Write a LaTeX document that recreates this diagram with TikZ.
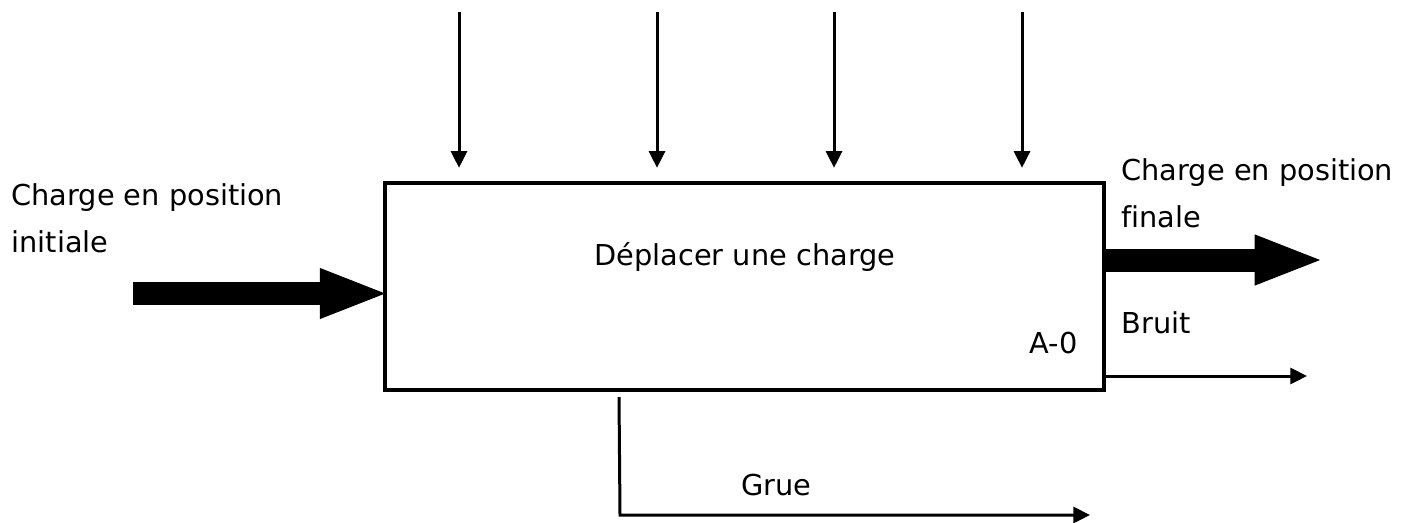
\documentclass[tikz,border=0pt]{standalone}
\usepackage{fontspec}
\setmainfont[Ligatures=NoCommon]{DejaVu Sans}
\usetikzlibrary{arrows.meta}

\tikzset{every picture/.style={line width=2.25pt}}
\tikzset{
  lbl/.style={inner sep=0pt, font=\fontsize{21.6}{35}\selectfont, align=left},
  fctbox/.style={draw, line width=2.8pt, minimum width=539.25pt, minimum height=155.25pt, inner sep=0pt},
  thin arrow/.style={-{Triangle[length=12.5pt,width=12pt]}, line width=2.25pt},
  flow arrow/.style={-{Triangle[length=52.5pt,width=33.75pt]}, line width=17.25pt, shorten >=-5pt}
}

\begin{document}
\begin{tikzpicture}[x=0.75pt,y=0.75pt,yscale=-1,xscale=1]
\useasboundingbox (0,0) rectangle (1408,522);

%Box A-0
\node [fctbox] (fct) at (744.5,286.5) {};
\node [lbl, anchor=base] (fctname) at (745,265) {Déplacer une charge};
\node [lbl, anchor=base west] (fctref) at (1028,353) {A-0};

%Controls
\coordinate (ctrl1) at (459,12);
\coordinate (ctrl2) at (657,12);
\coordinate (ctrl3) at (834,12);
\coordinate (ctrl4) at (1022,12);
\foreach \c in {ctrl1,ctrl2,ctrl3,ctrl4}
  \draw [thin arrow, shorten >=10pt] (\c) -- (\c |- fct.north);

%Input
\coordinate (in) at (133,293.5);
\node [lbl, anchor=base west] (inlbl) at (10,252) {Charge en position\\initiale};
\draw [flow arrow] (in) -- (fct.west |- in);

%Outputs
\coordinate (out) at (1318,260);
\node [lbl, anchor=base west] (outlbl) at (1120,227) {Charge en position\\finale};
\draw [flow arrow] (fct.east |- out) -- (out);

\coordinate (bruit) at (1307,376);
\node [lbl, anchor=base west] (bruitlbl) at (1120,333) {Bruit};
\draw [thin arrow] (fct.east |- bruit) -- (bruit);

%Mechanism
\coordinate (mec1) at (619,397);
\coordinate (mec2) at (620,515);
\coordinate (mec3) at (1090,515);
\node [lbl, anchor=base west] (gruelbl) at (740,495) {Grue};
\draw [thin arrow] (mec1) -- (mec2) -- (mec3);

\end{tikzpicture}
\end{document}
